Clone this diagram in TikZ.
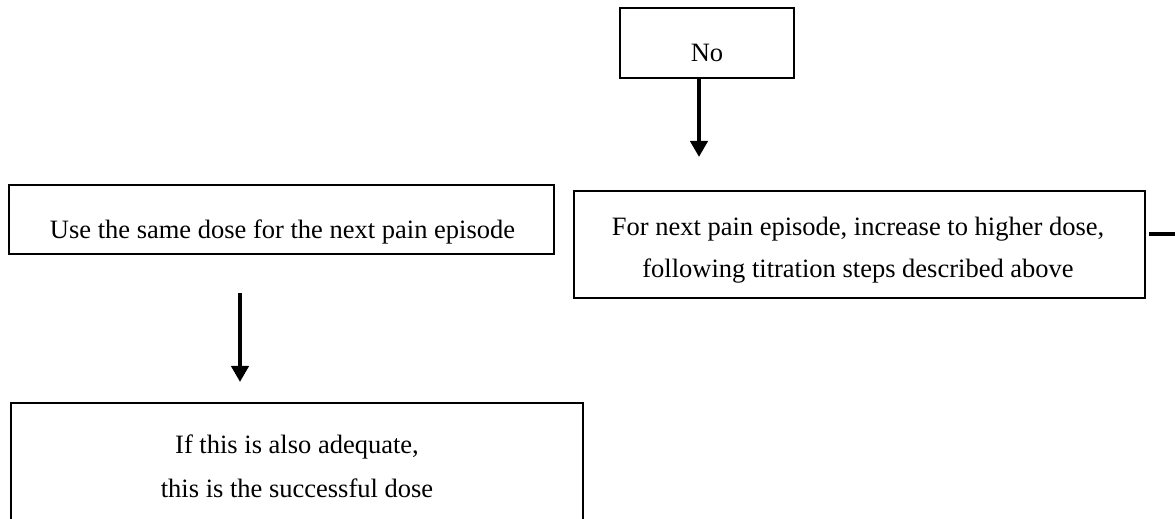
\documentclass[tikz,border=0pt]{standalone}
\usepackage{fontspec}
\setmainfont{Liberation Serif}
\usetikzlibrary{arrows.meta}
\begin{document}
\begin{tikzpicture}[x=0.5pt,y=-0.5pt,
  box/.style={draw, rectangle, line width=0.85pt, inner sep=0pt},
  txt/.style={anchor=base, inner sep=0pt, font=\fontsize{13.25pt}{16pt}\selectfont},
  arr/.style={line width=2.3pt, -{Triangle[width=8.5pt,length=8pt]}},
  stub/.style={line width=2.2pt}
]
\useasboundingbox (0,0) rectangle (1175,519);
\clip (0,0) rectangle (1175,519);

% boxes
\node[box, minimum width=87pt, minimum height=35pt] (no) at (707,43) {};
\node[box, minimum width=272.5pt, minimum height=34.5pt] (same) at (281.5,219.5) {};
\node[box, minimum width=285.5pt, minimum height=53.5pt] (incr) at (859.5,244.5) {};
\node[box, minimum width=286pt, minimum height=78.5pt] (succ) at (297,481.5) {};

% texts
\node[txt] (tno) at (707,62) {No};
\node[txt] (tsame) at (282.5,239) {Use the same dose for the next pain episode};
\node[txt] (tincr1) at (858,235) {For next pain episode, increase to higher dose,};
\node[txt] (tincr2) at (858,277.5) {following titration steps described above};
\node[txt] (tsucc1) at (297,453) {If this is also adequate,};
\node[txt] (tsucc2) at (297,497.5) {this is the successful dose};

% connectors
\coordinate (a1) at (699,157);
\draw[arr] (a1 |- no.south) -- (a1);

\coordinate (a2s) at (240,293);
\coordinate (a2e) at (240,382);
\draw[arr] (a2s) -- (a2e);

\coordinate (edge) at (1175,234);
\draw[stub] ([xshift=1.5pt]incr.east |- edge) -- (edge);
\end{tikzpicture}
\end{document}
